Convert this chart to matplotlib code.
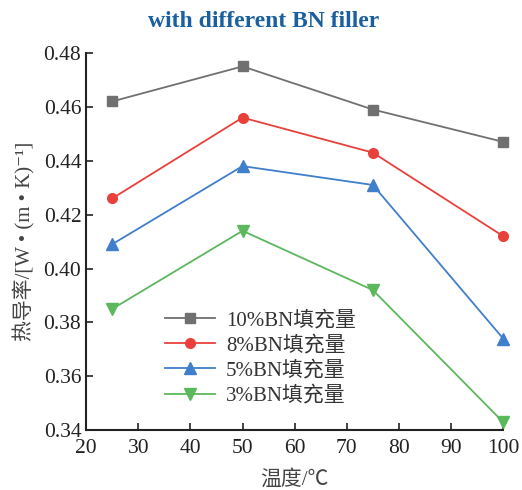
import matplotlib
matplotlib.use("Agg")
import matplotlib.pyplot as plt

plt.rcParams['font.family'] = ['Liberation Serif', 'Noto Sans CJK SC', 'DejaVu Serif']

temps = [25, 50, 75, 100]
bn10 = [0.462, 0.475, 0.459, 0.447]
bn8 = [0.426, 0.456, 0.443, 0.412]
bn5 = [0.409, 0.438, 0.431, 0.374]
bn3 = [0.385, 0.414, 0.392, 0.343]
labels = ['10%BN填充量', '8%BN填充量', '5%BN填充量', '3%BN填充量']

fig = plt.figure(figsize=(5.22, 4.9), dpi=100)
ax = fig.add_axes([0.165, 0.122, 0.799, 0.770])

ax.plot(temps, bn10, color='#707070', marker='s', ms=7, lw=1.3, label=labels[0], clip_on=False)
ax.plot(temps, bn8, color='#e8413c', marker='o', ms=7, lw=1.3, label=labels[1], clip_on=False)
ax.plot(temps, bn5, color='#3f7fcc', marker='^', ms=8, lw=1.3, label=labels[2], clip_on=False)
ax.plot(temps, bn3, color='#5cb85c', marker='v', ms=8, lw=1.3, label=labels[3], clip_on=False)

ax.set_xlim(20, 100)
ax.set_ylim(0.34, 0.48)
ax.set_xticks(range(20, 101, 10))
ax.set_yticks([0.34, 0.36, 0.38, 0.40, 0.42, 0.44, 0.46, 0.48])
ax.set_yticklabels(['%.2f' % v for v in ax.get_yticks()])
ax.tick_params(direction='in', length=5, width=1.2, labelsize=15.5, colors='#222222')
ax.tick_params(axis='x', pad=6)
for s in ['top', 'right']:
    ax.spines[s].set_visible(False)
for s in ['left', 'bottom']:
    ax.spines[s].set_linewidth(1.5)
    ax.spines[s].set_color('#222222')

ax.set_xlabel('温度/℃', fontsize=15, color='#444444', labelpad=9)
ax.set_ylabel('热导率/[W • (m • K)⁻¹]', fontsize=15, color='#444444', labelpad=6)

leg = ax.legend(loc='lower left', bbox_to_anchor=(0.145, 0.015), frameon=False,
                fontsize=15, handlelength=2.4, labelspacing=0.25, handletextpad=0.5)
for t in leg.get_texts():
    t.set_color('#333333')

fig.text(0.505, 0.957, 'with different BN filler', ha='center', va='center',
         fontsize=17, fontweight='bold', color='#1a5f9e')

fig.savefig('out.png', dpi=100)
